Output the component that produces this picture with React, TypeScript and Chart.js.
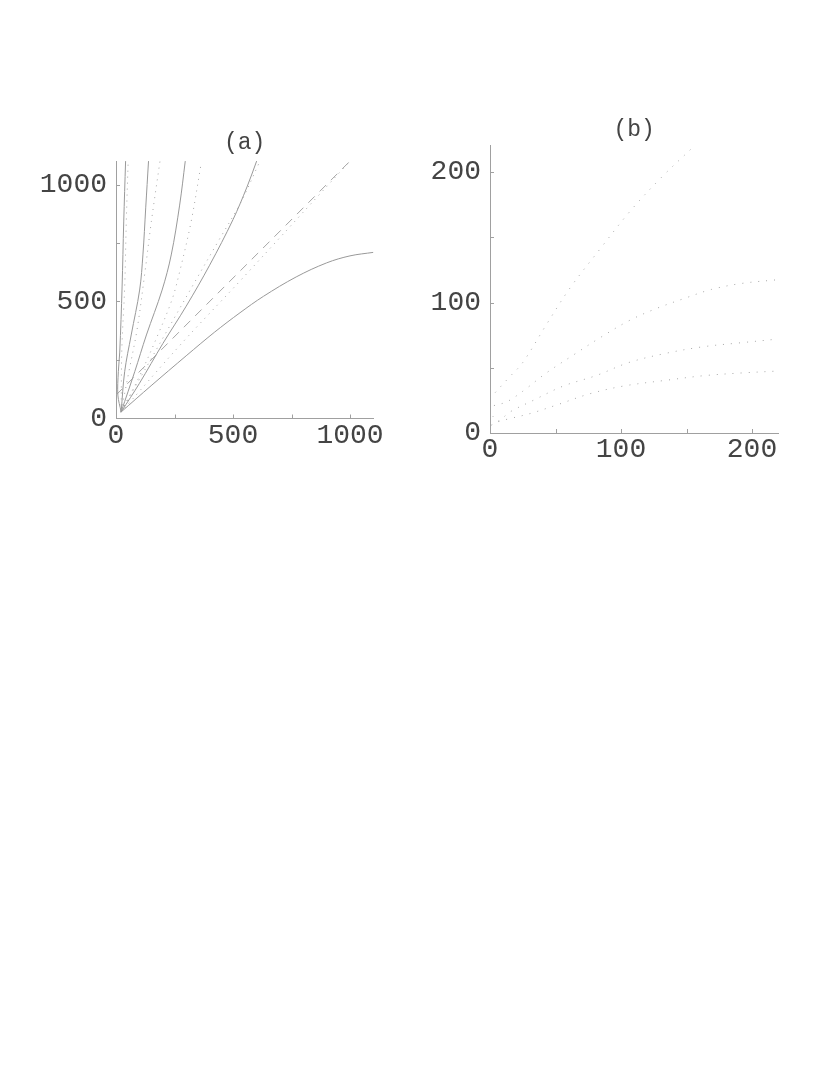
import React, { useEffect, useRef } from "react";
import { Chart, registerables } from "chart.js";
Chart.register(...registerables);

// ---------- Panel (a) data ----------
const aMax = 1100;
const aStep = 250;
const aLabelEvery = 500;

const s1X = [22, 8, 10, 16, 26, 33, 41];
const s1Y = [28, 100, 200, 284, 562, 840, 1100];
const s2X = [22, 37, 65, 101, 115, 127, 139];
const s2Y = [28, 200, 357, 549, 699, 900, 1100];
const s3X = [22, 80, 130, 197, 236, 272, 296];
const s3Y = [28, 200, 357, 549, 699, 912, 1100];
const s4X = [22, 100, 200, 300, 400, 500, 560, 601];
const s4Y = [28, 150, 320, 480, 655, 850, 990, 1100];
const s5X = [22, 150, 300, 420, 530, 630, 770, 900, 1000, 1100];
const s5Y = [28, 140, 268, 368, 452, 522, 605, 665, 695, 710];

const d1X = [22, 25, 37, 44, 52];
const d1Y = [30, 300, 558, 841, 1100];
const d2X = [22, 55, 90, 123, 151, 188];
const d2Y = [30, 200, 380, 620, 841, 1100];
const d3X = [22, 100, 180, 240, 272, 321, 364];
const d3Y = [30, 180, 360, 510, 627, 841, 1090];
const d4X = [22, 150, 329, 436, 535, 615];
const d4Y = [30, 255, 570, 756, 927, 1100];
const d5X = [20, 286, 534, 1000];
const d5Y = [25, 327, 592, 1100];

const dashX = [0, 1000];
const dashY = [100, 1100];

// ---------- Panel (b) data ----------
const bMax = 220;
const bStep = 50;
const bLabelEvery = 100;

const b1X = [4, 14, 25, 43, 61, 84, 107, 131, 156];
const b1Y = [31, 42, 54, 83, 111, 141, 170, 196, 220];
const b2X = [3, 13, 25, 43, 64, 84, 106, 126, 148, 169, 192, 220];
const b2Y = [21, 24, 32, 46, 60, 73, 86, 95, 103, 110, 114.6, 117.5];
const b3X = [2, 6, 15, 33, 56, 81, 106, 134, 162, 190, 220];
const b3Y = [13, 9, 16, 25, 36, 44, 54, 61, 66, 69, 72];
const b4X = [1, 6, 15, 31, 51, 76, 102, 136, 164, 192, 220];
const b4Y = [6, 8.6, 11, 15, 21.5, 30, 36, 40.6, 44, 46, 47.5];

const FONT = "'Liberation Mono', 'Courier New', monospace";
const TEXT = "#444";
const AXIS = "#a0a0a0";
const SOLID = "#999999";
const DOT = "#a6a6a6";

const pts = (xs: number[], ys: number[]) => xs.map((x, i) => ({ x, y: ys[i] }));

const solid = (xs: number[], ys: number[]) => ({
  data: pts(xs, ys),
  showLine: true,
  borderColor: SOLID,
  borderWidth: 1,
  pointRadius: 0,
  tension: 0.35,
  fill: false,
});
const dotted = (xs: number[], ys: number[], gap = 5) => ({
  data: pts(xs, ys),
  showLine: true,
  borderColor: DOT,
  borderWidth: 1,
  borderDash: [1, gap],
  pointRadius: 0,
  tension: 0.35,
  fill: false,
});
const dashed = (xs: number[], ys: number[]) => ({
  data: pts(xs, ys),
  showLine: true,
  borderColor: DOT,
  borderWidth: 1,
  borderDash: [9, 7],
  pointRadius: 0,
  tension: 0,
  fill: false,
});

const inwardTicks = {
  id: "inwardTicks",
  afterDatasetsDraw(chart: any) {
    const { ctx } = chart;
    const xs = chart.scales.x;
    const ys = chart.scales.y;
    ctx.save();
    ctx.strokeStyle = AXIS;
    ctx.lineWidth = 1;
    xs.ticks.forEach((t: any) => {
      if (t.value === 0) return;
      const px = Math.round(xs.getPixelForValue(t.value)) + 0.5;
      ctx.beginPath();
      ctx.moveTo(px, ys.bottom);
      ctx.lineTo(px, ys.bottom - 4);
      ctx.stroke();
    });
    ys.ticks.forEach((t: any) => {
      if (t.value === 0) return;
      const py = Math.round(ys.getPixelForValue(t.value)) + 0.5;
      ctx.beginPath();
      ctx.moveTo(xs.left, py);
      ctx.lineTo(xs.left + 4, py);
      ctx.stroke();
    });
    ctx.restore();
  },
};

const zeroPad = (s: any) => {
  s.paddingLeft = 0;
  s.paddingRight = 0;
  s.paddingTop = 0;
  s.paddingBottom = 0;
};

function makeConfig(
  title: string,
  datasets: any[],
  max: number,
  step: number,
  every: number,
  yWidth: number,
  xHeight: number,
  padRight: number,
  topHeight: number,
  titlePadTop: number
) {
  const tickFont = { family: FONT, size: 28 };
  const cb = (v: any) => (Number(v) % every === 0 ? String(v) : "");
  return {
    type: "scatter",
    data: { datasets },
    plugins: [inwardTicks],
    options: {
      animation: false,
      responsive: false,
      maintainAspectRatio: false,
      layout: { padding: { left: 0, right: padRight, top: 0, bottom: 0 } },
      plugins: {
        legend: { display: false },
        tooltip: { enabled: false },
        title: { display: false },
      },
      scales: {
        x: {
          type: "linear",
          min: 0,
          max,
          grid: { display: false, drawTicks: false },
          border: { display: true, color: AXIS, width: 1 },
          ticks: {
            stepSize: step,
            includeBounds: false,
            autoSkip: false,
            maxRotation: 0,
            padding: 0,
            color: TEXT,
            font: tickFont,
            callback: cb,
          },
          afterFit: (s: any) => {
            s.height = xHeight;
            zeroPad(s);
          },
        },
        top: {
          type: "linear",
          position: "top",
          min: 0,
          max: 1,
          grid: { display: false, drawTicks: false },
          border: { display: false },
          ticks: { display: false },
          title: {
            display: true,
            text: title,
            color: TEXT,
            font: { family: FONT, size: 23, weight: "normal", lineHeight: 1.2 },
            padding: { top: titlePadTop, bottom: 0 },
          },
          afterFit: (s: any) => {
            s.height = topHeight;
            zeroPad(s);
          },
        },
        y: {
          type: "linear",
          min: 0,
          max,
          grid: { display: false, drawTicks: false },
          border: { display: true, color: AXIS, width: 1 },
          ticks: {
            stepSize: step,
            includeBounds: false,
            autoSkip: false,
            padding: 9,
            color: TEXT,
            font: tickFont,
            callback: cb,
          },
          afterFit: (s: any) => {
            s.width = yWidth;
            zeroPad(s);
          },
        },
      },
    },
  };
}

function Panel(props: { cfg: any; left: number; top: number; width: number; height: number }) {
  const ref = useRef<HTMLCanvasElement | null>(null);
  useEffect(() => {
    if (!ref.current) return;
    const chart = new Chart(ref.current, props.cfg);
    return () => chart.destroy();
  }, []);
  return (
    <div
      style={{
        position: "absolute",
        left: props.left,
        top: props.top,
        width: props.width,
        height: props.height,
      }}
    >
      <canvas ref={ref} width={props.width} height={props.height} style={{ width: props.width, height: props.height }} />
    </div>
  );
}

export default function App() {
  const cfgA = makeConfig(
    "(a)",
    [
      solid(s1X, s1Y),
      solid(s2X, s2Y),
      solid(s3X, s3Y),
      solid(s4X, s4Y),
      solid(s5X, s5Y),
      dotted(d1X, d1Y),
      dotted(d2X, d2Y),
      dotted(d3X, d3Y),
      dotted(d4X, d4Y),
      dotted(d5X, d5Y),
      dashed(dashX, dashY),
    ],
    aMax,
    aStep,
    aLabelEvery,
    96,
    41.5,
    26.6,
    51.1,
    19.2
  );
  const cfgB = makeConfig(
    "(b)",
    [dotted(b1X, b1Y, 7), dotted(b2X, b2Y, 7), dotted(b3X, b3Y, 7), dotted(b4X, b4Y, 7)],
    bMax,
    bStep,
    bLabelEvery,
    80,
    32,
    41.8,
    50.9,
    21.2
  );
  return (
    <div
      style={{
        position: "absolute",
        left: 0,
        top: 0,
        width: 830,
        height: 1075,
        overflow: "hidden",
        background: "#fff",
      }}
    >
      <Panel cfg={cfgA} left={20} top={110} width={380} height={350} />
      <Panel cfg={cfgB} left={410} top={95} width={410} height={370} />
    </div>
  );
}
